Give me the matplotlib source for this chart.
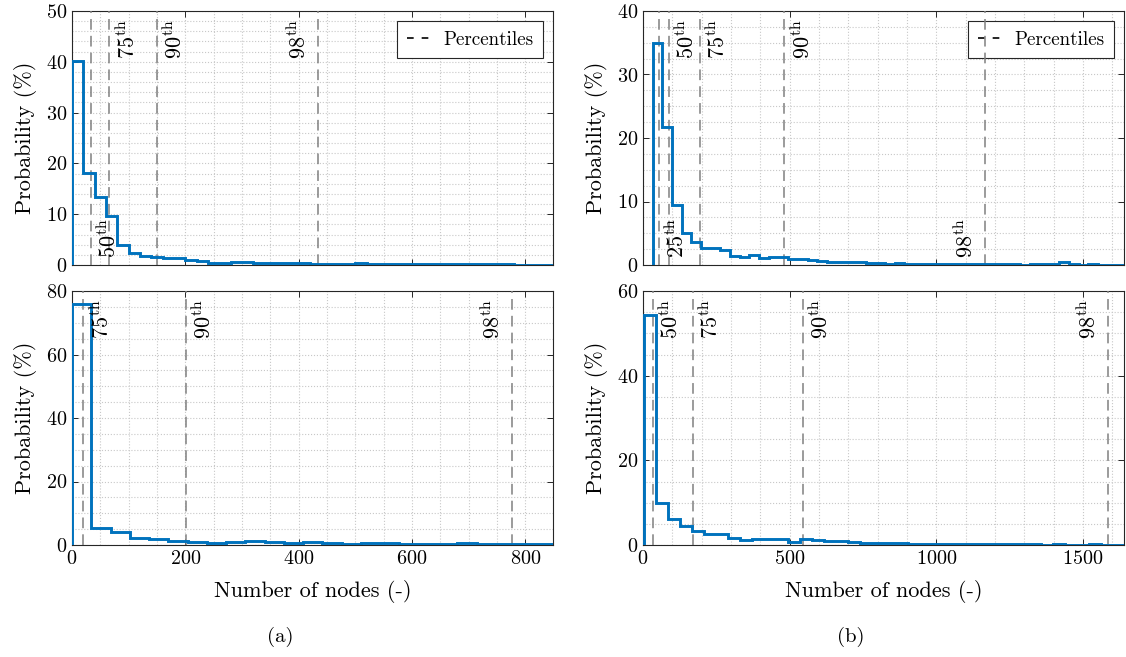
import numpy as np
import matplotlib
matplotlib.use("Agg")
import matplotlib.pyplot as plt
import matplotlib.transforms as mtransforms
from matplotlib.lines import Line2D
from matplotlib.ticker import MultipleLocator

plt.rcParams['font.family'] = ['cmr10']
plt.rcParams['mathtext.fontset'] = 'cm'
plt.rcParams['axes.formatter.use_mathtext'] = True
plt.rcParams['font.size'] = 14

# ==========================
# DATA (probability in %, stairs histograms)
# ==========================
# (a) top
a_top_start = 0
a_top_width = 20
a_top_prob = [40.2, 18.2, 13.3, 9.6, 3.9, 2.3, 1.7, 1.5, 1.4, 1.3,
              0.9, 0.8, 0.4, 0.4, 0.5, 0.5, 0.4, 0.4, 0.3, 0.3,
              0.3, 0.25, 0.2, 0.25, 0.2, 0.3, 0.2, 0.2, 0.15, 0.1,
              0.1, 0.15, 0.2, 0.15, 0.1, 0.1, 0.15, 0.1, 0.1, 0.05,
              0.05, 0.05, 0.05]
a_top_pct = [33, 66, 150, 434]
a_top_pct_lbl = ['50', '75', '90', '98']

# (a) bottom
a_bot_start = 0
a_bot_width = 34
a_bot_prob = [75.9, 5.3, 4.0, 2.2, 1.9, 1.3, 1.05, 0.5, 1.05, 1.35,
              0.8, 0.6, 1.0, 0.5, 0.3, 0.5, 0.7, 0.4, 0.3, 0.3,
              0.5, 0.2, 0.3, 0.2, 0.2, 0.2]
a_bot_pct = [20, 201, 777]
a_bot_pct_lbl = ['75', '90', '98']

# (b) top
b_top_start = 33
b_top_width = 33
b_top_prob = [35.0, 21.7, 9.4, 5.1, 3.7, 2.6, 2.6, 2.3, 1.4, 1.3,
              1.5, 1.1, 1.3, 1.3, 1.0, 0.9, 0.8, 0.6, 0.5, 0.5,
              0.4, 0.4, 0.3, 0.3, 0.2, 0.3, 0.2, 0.15, 0.2, 0.1,
              0.2, 0.15, 0.1, 0.15, 0.1, 0.2, 0.1, 0.1, 0.05, 0.1,
              0.1, 0.15, 0.4, 0.1, 0.05, 0.1, 0.05, 0.05, 0.05]
b_top_pct = [54, 87, 193, 482, 1166]
b_top_pct_lbl = ['25', '50', '75', '90', '98']

# (b) bottom
b_bot_start = 3
b_bot_width = 41
b_bot_prob = [54.3, 10.0, 6.1, 4.6, 3.3, 2.6, 2.5, 1.6, 1.2, 1.3,
              1.4, 1.4, 0.8, 1.3, 1.2, 1.0, 0.9, 0.6, 0.55, 0.5,
              0.4, 0.4, 0.35, 0.3, 0.3, 0.25, 0.2, 0.3, 0.2, 0.2,
              0.15, 0.2, 0.15, 0.1, 0.2, 0.1, 0.1, 0.15, 0.1, 0.1]
b_bot_pct = [33, 170, 545, 1585]
b_bot_pct_lbl = ['50', '75', '90', '98']

BLUE = '#0072BD'
GREY = '#808080'
TICK_FS = 14.5
LABEL_FS = 16
PCT_FS = 16
LEG_FS = 13.7

W, H = 1126, 657
fig = plt.figure(figsize=(W / 100, H / 100), dpi=100)


def px_axes(x0, y0, x1, y1):
    return fig.add_axes([x0 / W, 1 - y1 / H, (x1 - x0) / W, (y1 - y0) / H])


def panel(ax, start, width, prob, pct, lbl, where, xmax, ymax, ymaj, ymin_, xmaj, xmin_,
          xlabels, legend):
    edges = start + width * np.arange(len(prob) + 1)
    ax.stairs(prob, edges, baseline=0, color=BLUE, lw=2.1, zorder=4)

    trans = mtransforms.blended_transform_factory(ax.transData, ax.transAxes)
    for x, l, w in zip(pct, lbl, where):
        ax.axvline(x, color=GREY, ls=(0, (7, 4)), lw=1.1, zorder=3)
        pos, side = w
        ha = 'left' if side == 'r' else 'right'
        dx = 4 if side == 'r' else -6
        if pos == 't':
            tr = mtransforms.offset_copy(trans, fig=fig, x=dx, y=-6, units='points')
            ax.text(x, 1, r'$%s^{\mathrm{th}}$' % l, rotation=90, ha=ha, va='top',
                    transform=tr, fontsize=PCT_FS, zorder=5)
        else:
            tr = mtransforms.offset_copy(trans, fig=fig, x=dx, y=5, units='points')
            ax.text(x, 0, r'$%s^{\mathrm{th}}$' % l, rotation=90, ha=ha, va='bottom',
                    transform=tr, fontsize=PCT_FS, zorder=5)

    ax.set_xlim(0, xmax)
    ax.set_ylim(0, ymax)
    ax.xaxis.set_major_locator(MultipleLocator(xmaj))
    ax.xaxis.set_minor_locator(MultipleLocator(xmin_))
    ax.yaxis.set_major_locator(MultipleLocator(ymaj))
    ax.yaxis.set_minor_locator(MultipleLocator(ymin_))
    ax.grid(True, which='both', ls=':', color='#c8c8c8', lw=0.8, zorder=0)
    ax.set_axisbelow(True)
    ax.tick_params(which='major', direction='in', length=4, width=0.7,
                   top=True, right=True, colors='#262626', labelsize=TICK_FS,
                   labelcolor='black')
    ax.tick_params(which='minor', length=0)
    if not xlabels:
        ax.tick_params(labelbottom=False)
    else:
        ax.set_xlabel('Number of nodes (-)', fontsize=LABEL_FS, labelpad=9)
    for s in ax.spines.values():
        s.set_color('#262626')
        s.set_linewidth(0.8)
    ax.set_ylabel('Probability (%)', fontsize=LABEL_FS, labelpad=6)

    if legend:
        h = Line2D([], [], color='k', ls=(0, (4, 4.8)), lw=1.2)
        leg = ax.legend([h], ['Percentiles'], loc='upper right', fontsize=LEG_FS,
                        frameon=True, fancybox=False, framealpha=1,
                        edgecolor='#262626', handlelength=1.3, handletextpad=0.6,
                        borderaxespad=0.55, borderpad=0.5)
        leg.get_frame().set_linewidth(0.8)
        leg.set_zorder(2.5)


ax1 = px_axes(72, 11, 553, 265)
panel(ax1, a_top_start, a_top_width, a_top_prob, a_top_pct, a_top_pct_lbl,
      [('b', 'r'), ('t', 'r'), ('t', 'r'), ('t', 'l')],
      849, 50, 10, 2, 200, 50, False, True)

ax2 = px_axes(72, 291, 553, 545)
panel(ax2, a_bot_start, a_bot_width, a_bot_prob, a_bot_pct, a_bot_pct_lbl,
      [('t', 'r'), ('t', 'r'), ('t', 'l')],
      849, 80, 20, 5, 200, 50, True, False)

ax3 = px_axes(643, 11, 1124, 265)
panel(ax3, b_top_start, b_top_width, b_top_prob, b_top_pct, b_top_pct_lbl,
      [('b', 'r'), ('t', 'r'), ('t', 'r'), ('t', 'r'), ('b', 'l')],
      1640, 40, 10, 2.5, 500, 100, False, True)

ax4 = px_axes(643, 291, 1124, 545)
panel(ax4, b_bot_start, b_bot_width, b_bot_prob, b_bot_pct, b_bot_pct_lbl,
      [('t', 'r'), ('t', 'r'), ('t', 'r'), ('t', 'l')],
      1640, 60, 20, 5, 500, 100, True, False)

fig.text(280 / W, 1 - 637 / H, '(a)', ha='center', va='center', fontsize=15)
fig.text(851 / W, 1 - 637 / H, '(b)', ha='center', va='center', fontsize=15)

fig.savefig('out.png', dpi=100)
